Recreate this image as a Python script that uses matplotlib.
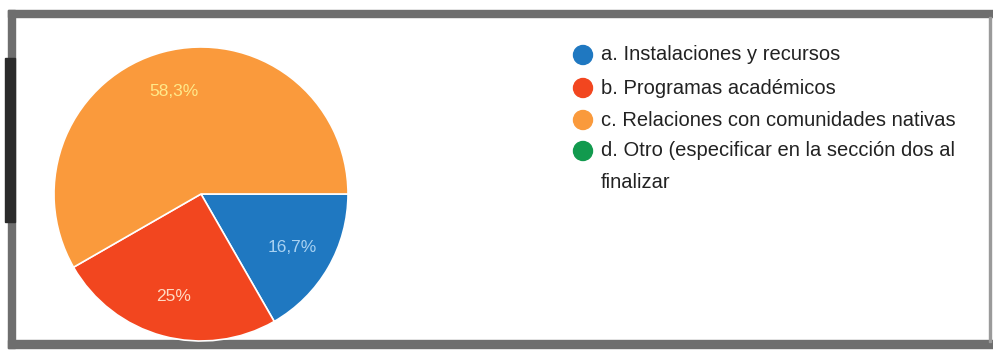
import matplotlib.pyplot as plt
from matplotlib.patches import Rectangle, Circle

# Survey answers and their share of responses
categories = [
    "a. Instalaciones y recursos",
    "b. Programas académicos",
    "c. Relaciones con comunidades nativas",
    "d. Otro (especificar en la sección dos al\nfinalizar",
]
shares = [16.7, 25.0, 58.3, 0.0]
colors = ["#1f78c1", "#f2461f", "#fa9a3c", "#129a4e"]
label_colors = ["#a9d2f2", "#ffd9c2", "#ffe98a"]

W, H = 993, 353
plt.rcParams['font.family'] = ['Liberation Sans', 'DejaVu Sans']

fig = plt.figure(figsize=(W / 100, H / 100), dpi=100)
fig.patch.set_facecolor("white")

# Overlay axes in pixel units for the frame and legend
ov = fig.add_axes([0, 0, 1, 1])
ov.set_xlim(0, W)
ov.set_ylim(H, 0)
ov.axis("off")

# Pie axes
cx, cy, r = 201, 194, 147
pie_ax = fig.add_axes([(cx - r) / W, (H - cy - r) / H, 2 * r / W, 2 * r / H])

vals = [v for v in shares if v > 0]
cols = [c for v, c in zip(shares, colors) if v > 0]


def fmt(p):
    s = f"{p:.1f}".replace(".", ",")
    return s[:-2] + "%" if s.endswith(",0") else s + "%"


wedges, _, autotexts = pie_ax.pie(
    vals, colors=cols, startangle=0, counterclock=False,
    autopct=fmt, pctdistance=0.72,
    wedgeprops=dict(edgecolor="white", linewidth=1.2),
    textprops=dict(fontsize=12.5),
)
for t, c in zip(autotexts, label_colors):
    t.set_color(c)
pie_ax.set_xlim(-1, 1)
pie_ax.set_ylim(-1, 1)
pie_ax.set_aspect("equal")

# Legend: coloured dot plus label, wrapped lines 32 px apart
leg_y = [55, 88, 120, 151]
for y, name, c in zip(leg_y, categories, colors):
    ov.add_patch(Circle((583, y), 9.5, color=c))
    for i, line in enumerate(name.split("\n")):
        ov.text(601, y + i * 32, line, fontsize=14.5, color="#222222", va="center")

# Frame
frame = "#6e6e6e"
ov.add_patch(Rectangle((8, 10), W - 8, 7, color=frame))
ov.add_patch(Rectangle((8, 10), 7, 338, color=frame))
ov.add_patch(Rectangle((8, 340), W - 8, 8, color=frame))
ov.add_patch(Rectangle((989, 17), 2, 325, color="#9a9a9a"))
ov.add_patch(Rectangle((5, 58), 10, 164, color="#2b2b2b"))

fig.savefig("out.png", dpi=100)
